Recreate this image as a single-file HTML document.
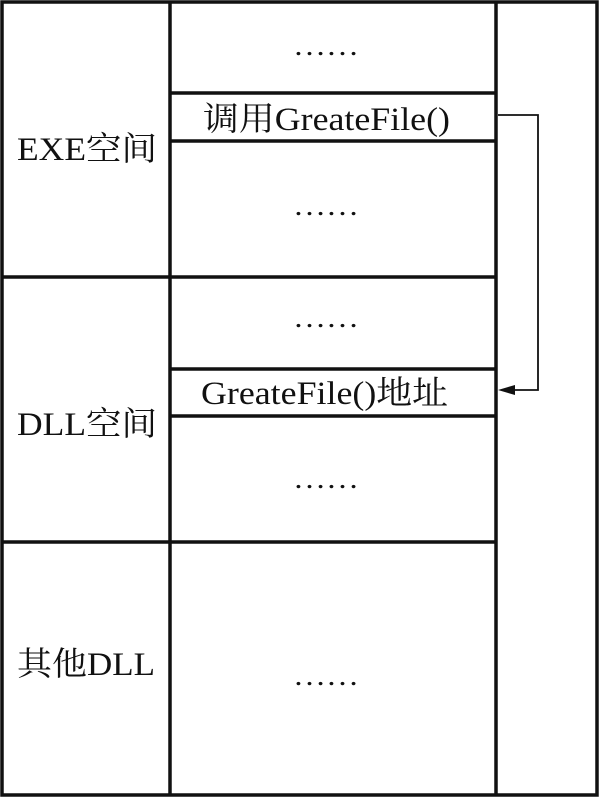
<!DOCTYPE html>
<html><head><meta charset="utf-8"><style>
html,body{margin:0;padding:0;background:#fff;}
svg{display:block;}
text{font-family:"Liberation Serif","Noto Serif CJK SC",serif;fill:#111;}
</style></head><body>
<svg width="601" height="798" viewBox="0 0 601 798" xmlns="http://www.w3.org/2000/svg">
<g stroke="#111" fill="none">
<rect x="2" y="2" width="595" height="793" stroke-width="3.5"/>
<line x1="170" y1="2" x2="170" y2="795" stroke-width="3.5"/>
<line x1="496" y1="2" x2="496" y2="795" stroke-width="3.5"/>
<line x1="2" y1="277" x2="496" y2="277" stroke-width="3.5"/>
<line x1="2" y1="542" x2="496" y2="542" stroke-width="3.5"/>
<line x1="170" y1="93" x2="496" y2="93" stroke-width="3.5"/>
<line x1="170" y1="141" x2="496" y2="141" stroke-width="3.5"/>
<line x1="170" y1="369" x2="496" y2="369" stroke-width="3.5"/>
<line x1="170" y1="416" x2="496" y2="416" stroke-width="3.5"/>
<polyline points="498,115 538,115 538,390 512,390" stroke-width="1.8"/>
</g>
<polygon points="498,390 515,385 515,395" fill="#111"/>
<g font-size="33" lengthAdjust="spacingAndGlyphs">
<text x="17" y="160" textLength="140" lengthAdjust="spacingAndGlyphs">EXE空间</text>
<text x="17" y="435" textLength="140" lengthAdjust="spacingAndGlyphs">DLL空间</text>
<text x="17" y="675" textLength="138" lengthAdjust="spacingAndGlyphs">其他DLL</text>
<text x="203" y="130" textLength="247" lengthAdjust="spacingAndGlyphs">调用GreateFile()</text>
<text x="201" y="404" textLength="247" lengthAdjust="spacingAndGlyphs">GreateFile()地址</text>
</g>
<g font-size="28">
<text x="293" y="55" textLength="66" lengthAdjust="spacingAndGlyphs">……</text>
<text x="293" y="215" textLength="66" lengthAdjust="spacingAndGlyphs">……</text>
<text x="293" y="327" textLength="66" lengthAdjust="spacingAndGlyphs">……</text>
<text x="293" y="488" textLength="66" lengthAdjust="spacingAndGlyphs">……</text>
<text x="293" y="685" textLength="66" lengthAdjust="spacingAndGlyphs">……</text>
</g>
</svg>
</body></html>
